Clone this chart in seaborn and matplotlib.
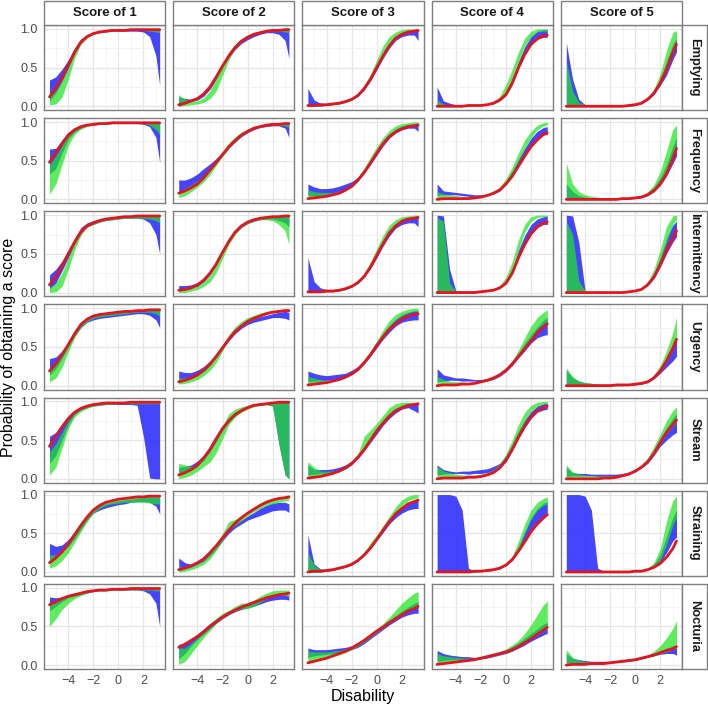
import numpy as np
import pandas as pd
import matplotlib
matplotlib.use("Agg")
import matplotlib.pyplot as plt
from matplotlib.patches import Rectangle
import seaborn as sns

# disability grid shared by every panel
x_disability = [-5.5, -5, -4.5, -4, -3.5, -3, -2.5, -2, -1.5, -1, -0.5,
                0, 0.5, 1, 1.5, 2, 2.5, 3, 3.3]

scores = ["Score of 1", "Score of 2", "Score of 3", "Score of 4", "Score of 5"]
items = ["Emptying", "Frequency", "Intermittency", "Urgency", "Stream",
         "Straining", "Nocturia"]

# probabilities in percent, one list per score (1..5)
emptying = {
    "fit": [[12,23,37,53,70,83,90,94,96,97,98,98,98,99,99,99,99,99,99],
            [2,4,7,10,16,25,38,52,65,76,84,89,93,95,97,98,98,99,99],
            [1,1,2,2,3,4,6,9,14,23,35,50,65,78,88,93,96,97,98],
            [0,0,0,0,0,1,1,1,2,4,8,15,30,50,67,80,87,91,92],
            [0,0,0,0,0,0,0,0,0,0,1,2,4,9,17,30,48,69,80]],
    "blue_lo": [[7,17,32,49,67,81,89,93,95,96,97,97,97,97,97,96,90,65,27],
                [0,3,6,8,13,22,35,50,63,73,81,86,90,93,95,95,93,85,62],
                [0,0,0,1,2,3,5,8,13,21,33,47,62,75,85,90,92,92,85],
                [0,0,0,0,0,0,1,1,2,3,7,14,28,48,66,80,87,89,89],
                [0,0,0,0,0,0,0,0,0,0,0,1,3,8,15,27,40,60,70]],
    "blue_hi": [[34,38,48,60,75,87,92,95,97,98,99,99,99,100,100,100,100,100,100],
                [12,10,9,12,18,28,41,55,68,79,87,92,95,97,98,99,99,99,99],
                [23,8,4,3,4,6,8,11,17,26,38,53,68,81,90,95,97,98,99],
                [25,7,4,2,2,2,2,2,3,5,10,19,36,58,77,90,97,99,99],
                [82,35,9,2,1,1,1,1,1,1,1,2,5,11,20,35,58,80,88]],
    "green_lo": [[2,3,12,35,62,80,88,93,95,96,97,97,97,98,98,98,97,96,95],
                 [0,1,2,3,5,10,20,40,60,74,83,89,93,95,96,97,97,96,95],
                 [0,0,1,1,2,3,5,8,13,22,36,52,68,82,90,95,97,98,98],
                 [0,0,0,0,0,1,1,1,2,4,9,19,37,58,78,90,96,97,97],
                 [0,0,0,0,0,0,0,0,0,0,0,1,4,9,18,32,52,76,85]],
    "green_hi": [[12,20,33,50,70,86,92,95,97,98,99,99,99,99,100,100,100,100,100],
                 [15,9,6,7,11,20,36,55,70,80,87,92,95,97,98,99,99,99,99],
                 [2,2,2,3,4,5,7,10,16,27,42,60,78,90,96,99,100,100,100],
                 [8,3,1,1,1,1,1,2,3,6,13,28,48,70,88,97,100,100,100],
                 [58,20,5,2,1,1,1,1,1,1,1,2,5,11,22,42,72,95,98]],
}

frequency = {
    "fit": [[48,60,72,83,90,94,96,97,98,98,99,99,99,99,99,99,99,99,99],
            [8,11,15,20,28,38,48,58,68,76,83,88,92,94,96,97,97,98,98],
            [1,2,3,4,6,8,12,17,25,35,47,60,72,81,87,91,94,95,96],
            [0,1,1,1,1,1,2,3,5,8,12,20,30,43,56,68,77,84,86],
            [0,0,0,0,0,0,0,0,0,1,1,2,3,6,11,20,33,52,66]],
    "blue_lo": [[33,40,60,78,87,92,95,96,97,97,98,98,98,98,98,97,94,80,48],
                [10,12,16,21,28,37,46,56,66,74,81,86,90,93,94,95,95,92,80],
                [5,5,5,6,7,9,12,16,24,34,45,57,69,79,86,90,92,92,88],
                [5,6,6,6,5,4,3,3,5,7,11,19,30,44,58,70,78,83,84],
                [0,0,0,0,0,0,0,0,0,0,1,1,2,5,10,18,30,46,56]],
    "blue_hi": [[65,66,77,87,92,95,97,98,99,99,99,100,100,100,100,100,100,100,100],
                [25,25,28,33,40,46,53,61,70,78,85,90,93,95,97,98,98,98,98],
                [20,16,14,14,15,17,20,23,29,39,51,64,76,85,91,95,97,98,99],
                [20,11,10,9,8,7,6,6,7,10,15,24,37,52,66,79,88,93,94],
                [20,10,5,3,2,1,1,1,1,1,2,3,5,9,16,28,45,68,80]],
    "green_lo": [[7,20,45,70,84,91,94,96,97,97,98,98,98,98,98,98,96,90,84],
                 [2,5,10,16,23,32,44,56,66,75,82,87,91,94,95,96,96,95,93],
                 [2,3,4,4,6,8,11,16,24,35,48,61,74,84,90,94,96,97,97],
                 [2,3,3,3,3,3,3,3,5,8,13,22,34,50,66,80,90,95,96],
                 [0,0,0,0,0,0,0,0,0,0,1,1,3,6,12,22,38,60,70]],
    "green_hi": [[45,56,70,82,90,94,96,97,98,99,99,99,99,100,100,100,100,100,100],
                 [10,14,19,24,32,41,51,62,73,81,87,91,94,96,97,98,99,99,99],
                 [12,10,9,9,9,11,14,20,29,41,55,68,80,89,95,98,99,100,100],
                 [10,7,6,5,4,4,4,5,7,10,16,27,42,60,77,88,96,99,100],
                 [47,20,10,6,4,3,2,2,2,2,2,3,5,10,19,36,62,90,96]],
}

intermittency = {
    "fit": [[10,20,34,50,65,78,86,90,93,95,96,97,98,98,99,99,99,99,99],
            [3,4,6,10,16,25,37,52,66,78,86,91,94,96,97,98,98,99,99],
            [1,1,1,2,2,3,5,8,13,21,33,48,63,77,86,92,95,96,97],
            [0,0,0,0,0,0,0,1,2,3,6,12,25,45,62,76,85,90,91],
            [0,0,0,0,0,0,0,0,0,0,1,2,4,10,20,36,55,70,80]],
    "blue_lo": [[5,12,28,45,62,77,85,88,91,93,94,95,96,96,96,95,90,75,50],
                [2,4,6,8,14,23,35,50,64,76,84,89,92,94,95,95,93,90,85],
                [0,0,0,1,1,2,4,7,12,20,31,45,60,73,83,88,90,90,85],
                [0,0,0,0,0,0,0,1,2,3,6,12,25,45,62,75,84,88,88],
                [0,0,0,0,0,0,0,0,0,0,1,2,4,9,18,33,50,65,72]],
    "blue_hi": [[23,30,41,55,70,84,90,93,95,96,97,98,98,99,99,99,100,100,100],
                [9,9,10,13,19,28,40,55,69,80,88,93,95,97,98,99,99,99,99],
                [45,14,6,4,3,4,6,9,15,24,36,51,66,79,88,93,96,98,99],
                [100,99,30,2,2,2,2,2,3,4,8,15,30,55,74,88,95,98,99],
                [100,99,65,2,1,1,1,1,1,1,1,3,6,13,25,45,70,87,92]],
    "green_lo": [[0,1,8,30,55,74,84,88,91,93,94,95,96,96,96,96,95,93,90],
                 [0,0,2,4,8,14,26,44,62,75,84,89,92,94,94,93,88,80,62],
                 [0,0,0,1,1,2,4,7,12,20,33,49,65,79,88,93,96,97,97],
                 [0,0,0,0,0,0,0,1,2,3,7,15,30,55,78,92,97,98,98],
                 [0,0,0,0,0,0,0,0,0,0,1,2,5,11,23,42,65,88,94]],
    "green_hi": [[6,12,25,45,65,80,87,91,94,96,97,98,98,99,99,99,100,100,100],
                 [5,5,6,8,14,22,36,55,70,81,88,93,96,98,99,99,100,100,100],
                 [2,2,2,2,3,4,6,9,15,25,40,57,74,87,94,98,99,100,100],
                 [97,92,12,2,1,1,1,2,3,5,9,20,40,68,88,98,100,100,100],
                 [92,75,15,2,1,1,1,1,1,1,1,3,6,14,30,55,85,99,100]],
}

urgency = {
    "fit": [[19,28,40,53,67,79,86,90,92,93,94,95,96,96,97,97,98,98,98],
            [5,7,10,14,20,28,38,49,60,70,77,83,87,90,93,95,96,97,97],
            [1,2,3,4,6,8,11,15,21,30,40,52,63,73,80,86,90,92,93],
            [0,1,1,1,2,2,3,5,7,10,14,20,28,38,48,58,68,76,80],
            [0,0,0,0,0,0,0,0,1,1,1,2,3,5,10,19,32,48,60]],
    "blue_lo": [[14,22,35,50,64,75,82,85,87,88,89,90,91,92,93,93,91,85,75],
                [5,7,9,13,18,26,36,47,58,67,74,79,82,84,86,88,88,87,85],
                [5,6,6,7,8,9,11,15,20,28,38,49,60,69,77,82,84,85,85],
                [5,6,7,7,6,6,6,5,6,8,12,18,26,36,45,55,62,65,66],
                [0,0,0,0,0,0,0,0,0,0,1,1,2,4,9,16,24,32,38]],
    "blue_hi": [[35,37,45,57,70,81,87,90,92,93,94,95,96,97,97,98,98,98,98],
                [19,17,17,20,25,32,41,52,62,71,78,84,87,89,91,93,95,96,95],
                [19,16,14,13,14,15,16,20,25,33,44,56,68,78,86,92,95,97,97],
                [22,14,12,10,10,9,8,8,9,12,16,23,32,42,55,66,76,85,88],
                [20,10,6,4,3,2,2,2,2,2,2,3,4,7,13,22,35,50,60]],
    "green_lo": [[5,10,24,44,62,75,83,87,89,90,91,92,93,94,95,95,95,93,90],
                 [2,3,5,8,13,20,30,45,60,70,77,82,86,89,92,94,95,96,96],
                 [2,3,4,4,6,8,11,15,21,30,41,53,65,76,85,90,94,96,96],
                 [2,3,3,3,3,3,3,4,6,9,13,20,29,38,50,62,73,80,83],
                 [0,0,0,0,0,0,0,0,0,0,1,1,2,5,10,18,30,48,58]],
    "green_hi": [[22,29,41,55,68,79,86,90,92,93,94,95,96,97,97,98,98,99,99],
                 [10,10,12,15,20,28,40,53,66,76,83,88,91,94,96,97,98,99,99],
                 [12,10,8,7,8,9,12,16,23,33,45,58,72,84,92,96,99,100,100],
                 [12,8,6,5,5,4,4,5,7,10,15,22,32,46,62,77,88,95,98],
                 [23,12,6,4,3,2,2,2,2,2,2,3,4,7,14,26,45,68,88]],
}

stream = {
    "fit": [[42,55,67,78,86,91,94,96,97,98,98,98,98,99,99,99,99,99,99],
            [5,8,12,18,27,38,52,65,75,83,88,92,95,96,97,98,99,99,99],
            [1,2,3,5,7,10,14,20,28,38,50,62,72,81,88,92,95,96,97],
            [0,1,1,1,1,2,2,3,5,8,14,24,38,54,68,80,88,92,94],
            [0,0,0,0,0,0,1,1,2,4,6,10,15,22,33,47,60,70,76]],
    "blue_lo": [[20,30,50,70,83,89,92,94,95,96,96,96,96,96,95,55,1,0,0],
                [5,8,11,16,24,35,48,62,73,81,87,91,94,95,96,94,45,5,0],
                [5,6,7,7,8,10,13,18,26,36,47,58,69,78,85,90,92,88,85],
                [5,6,7,7,7,6,7,7,8,10,14,22,36,52,66,78,86,89,90],
                [3,4,4,4,4,3,3,3,3,4,6,9,14,20,30,42,50,57,60]],
    "blue_hi": [[55,60,71,81,88,93,95,97,98,98,99,99,99,99,99,99,99,99,99],
                [15,16,18,23,31,42,56,69,79,86,91,94,96,97,98,99,99,99,99],
                [18,12,12,12,13,15,18,23,31,42,54,66,76,85,91,95,97,98,98],
                [18,12,10,9,10,10,11,12,13,16,20,30,45,62,76,87,94,97,98],
                [15,8,7,7,6,6,6,6,6,7,9,12,17,25,37,52,66,78,84]],
    "green_lo": [[5,15,40,65,80,87,91,94,95,96,96,97,97,97,97,97,97,97,97],
                 [0,2,5,10,16,22,34,52,70,80,86,90,93,95,96,94,45,5,0],
                 [0,2,4,5,7,9,13,19,27,38,50,62,73,82,89,93,95,96,96],
                 [0,2,3,3,3,3,3,4,6,9,15,25,40,58,75,88,94,97,97],
                 [0,2,2,2,2,2,2,2,2,4,6,10,15,21,31,45,58,68,73]],
    "green_hi": [[35,45,60,75,85,90,94,96,97,98,98,98,99,99,99,99,99,99,99],
                 [20,18,16,20,27,36,50,68,84,90,93,95,97,98,99,99,99,99,99],
                 [22,15,10,10,10,12,16,22,33,55,63,72,82,92,97,99,99,99,99],
                 [17,10,8,6,5,5,5,6,8,12,19,32,50,70,86,95,99,100,100],
                 [18,9,6,5,4,4,4,4,4,5,8,12,18,27,42,58,75,88,93]],
}

straining = {
    "fit": [[12,18,26,36,48,60,71,80,86,90,92,94,95,96,97,97,98,98,98],
            [3,5,8,12,17,25,34,44,54,63,70,76,81,86,90,93,95,96,97],
            [0,1,1,2,3,5,7,10,15,22,31,42,54,65,75,82,88,91,93],
            [0,0,0,0,0,0,1,1,2,3,5,9,16,27,39,52,62,70,74],
            [0,0,0,0,0,0,0,0,0,0,0,1,1,3,6,11,19,30,40]],
    "blue_lo": [[15,20,25,33,43,55,67,76,80,83,85,87,88,90,91,91,90,85,75],
                [2,4,6,10,14,21,30,40,50,57,62,67,70,73,76,79,80,80,77],
                [0,0,0,1,2,4,6,9,14,21,30,41,51,62,70,76,80,82,82],
                [0,0,0,0,0,0,0,1,1,2,4,8,15,26,40,56,65,72,74],
                [0,0,0,0,0,0,0,0,0,0,0,1,2,3,6,12,25,40,45]],
    "blue_hi": [[37,33,35,42,52,63,73,82,86,88,90,92,93,94,95,96,97,97,97],
                [18,12,10,14,20,27,36,46,56,63,67,72,77,82,86,89,90,90,88],
                [48,10,4,3,4,6,8,11,17,25,35,46,57,68,77,84,89,92,93],
                [100,100,100,98,80,5,1,1,2,3,5,10,19,33,52,70,82,89,91],
                [100,100,100,98,80,5,1,1,1,1,1,1,2,4,10,22,45,70,80]],
    "green_lo": [[5,8,15,25,38,52,65,76,82,86,88,89,90,90,90,90,89,88,88],
                 [0,1,3,6,10,17,28,40,55,60,66,72,78,82,86,88,90,92,93],
                 [0,0,0,1,2,4,6,9,14,21,31,43,55,66,77,86,92,95,96],
                 [0,0,0,0,0,0,0,1,1,2,4,8,16,30,50,68,80,86,88],
                 [0,0,0,0,0,0,0,0,0,0,0,1,2,3,7,15,35,60,70]],
    "green_hi": [[22,22,27,36,48,60,72,82,87,90,92,94,95,96,96,97,97,97,97],
                 [7,6,7,10,15,24,36,50,65,68,72,78,84,89,93,95,96,98,98],
                 [25,8,3,2,3,5,8,12,17,26,38,48,60,72,84,93,98,100,100],
                 [0,0,0,0,0,0,1,1,2,3,5,10,20,40,62,80,90,95,97],
                 [0,0,0,0,0,0,0,0,0,0,0,1,2,5,12,30,65,92,98]],
}

nocturia = {
    "fit": [[78,82,86,89,91,93,95,96,97,97,98,98,98,99,99,99,99,99,99],
            [23,27,32,37,43,50,56,62,67,71,75,78,81,84,87,89,91,92,93],
            [3,5,7,9,12,15,18,22,27,32,38,44,49,55,60,65,70,73,76],
            [1,2,3,4,5,6,7,9,11,13,15,17,20,24,29,34,40,45,49],
            [0,1,1,1,2,2,2,3,4,5,6,7,9,11,13,16,19,21,24]],
    "blue_lo": [[70,76,82,87,89,91,93,95,96,96,97,97,97,97,97,96,92,80,50],
                [8,15,25,33,40,47,54,60,65,69,72,74,76,79,82,84,85,85,84],
                [10,12,13,14,15,16,18,20,23,28,34,40,46,52,57,62,65,67,67],
                [5,6,7,7,7,7,7,8,9,11,13,15,18,22,26,31,35,39,41],
                [3,3,3,3,3,3,3,3,4,4,5,6,8,10,12,14,15,15,13]],
    "blue_hi": [[88,87,88,90,92,94,96,97,98,98,99,99,99,99,99,99,99,99,99],
                [27,28,34,40,47,54,60,65,70,74,77,80,82,85,88,90,91,91,90],
                [22,20,20,20,21,22,23,25,29,34,40,46,52,58,64,70,75,80,82],
                [19,15,13,12,11,11,10,11,12,14,17,20,24,29,35,41,47,53,55],
                [15,9,7,6,5,5,5,5,5,6,7,8,10,12,15,18,22,25,25]],
    "green_lo": [[50,60,72,80,86,90,93,95,96,96,97,97,97,97,97,97,97,96,96],
                 [1,5,15,26,36,45,54,61,66,70,73,73,76,81,86,89,90,90,89],
                 [3,5,7,9,11,13,16,20,25,30,36,42,48,55,61,67,71,74,76],
                 [2,3,4,5,5,6,7,8,10,12,14,16,19,24,29,34,39,44,47],
                 [0,1,2,2,2,2,2,3,3,4,5,6,8,10,12,15,17,20,22]],
    "green_hi": [[80,84,87,89,91,93,95,96,97,98,98,98,99,99,99,99,99,99,99],
                 [22,22,28,35,44,53,61,67,71,76,80,80,84,89,93,96,97,97,97],
                 [18,17,17,17,18,19,21,24,29,35,41,47,54,62,71,80,87,93,95],
                 [15,12,11,10,9,9,9,10,12,14,17,21,26,32,41,52,65,78,83],
                 [20,10,6,5,4,4,4,4,5,6,7,8,10,13,18,25,35,47,57]],
}

item_data = [emptying, frequency, intermittency, urgency, stream, straining, nocturia]

BLUE = "#2b2bff"
GREEN = "#1ee61e"
RED = "#e5141e"
BORDER = "#7f7f7f"

sns.set_style("white")
plt.rcParams["font.family"] = ["Liberation Sans", "DejaVu Sans"]

W, H = 708, 708
fig = plt.figure(figsize=(W / 100, H / 100), dpi=100)
axes = fig.subplots(7, 5, sharex=True, sharey=True)
fig.subplots_adjust(left=44 / W, right=682 / W, top=1 - 25 / H,
                    bottom=1 - 669 / H, wspace=8 / 121.2, hspace=8 / 85.1)

x = np.array(x_disability)
for r, data in enumerate(item_data):
    for c in range(5):
        ax = axes[r, c]
        for key in data:
            assert len(data[key][c]) == len(x), (items[r], key, c)
        ax.fill_between(x, np.array(data["blue_lo"][c]) / 100,
                        np.array(data["blue_hi"][c]) / 100,
                        color=BLUE, alpha=0.88, linewidth=0, zorder=2)
        ax.fill_between(x, np.array(data["green_lo"][c]) / 100,
                        np.array(data["green_hi"][c]) / 100,
                        color=GREEN, alpha=0.72, linewidth=0, zorder=3)
        df = pd.DataFrame({"Disability": x,
                           "p": np.array(data["fit"][c]) / 100})
        sns.lineplot(data=df, x="Disability", y="p", ax=ax, color=RED,
                     linewidth=2.0, zorder=4)

        ax.set_xlim(-5.94, 3.74)
        ax.set_ylim(-0.05, 1.05)
        ax.set_xticks([-4, -2, 0, 2])
        ax.set_xticks([-5, -3, -1, 1, 3], minor=True)
        ax.set_yticks([0, 0.5, 1.0])
        ax.set_yticks([0.25, 0.75], minor=True)
        ax.set_yticklabels(["0.0", "0.5", "1.0"])
        ax.grid(which="major", color="#e6e6e6", linewidth=0.9, zorder=0)
        ax.grid(which="minor", color="#f2f2f2", linewidth=0.6, zorder=0)
        ax.set_axisbelow(True)
        ax.set_xlabel("")
        ax.set_ylabel("")
        ax.tick_params(axis="both", which="major", length=2.5, width=0.6,
                       color="#333333", labelsize=9, labelcolor="#4d4d4d",
                       pad=2)
        ax.tick_params(which="minor", length=0)
        for sp in ax.spines.values():
            sp.set_color(BORDER)
            sp.set_linewidth(1.0)

# facet strips
for c in range(5):
    pos = axes[0, c].get_position()
    fig.patches.append(Rectangle((pos.x0, pos.y1), pos.width, 24 / H,
                                 transform=fig.transFigure, facecolor="white",
                                 edgecolor=BORDER, linewidth=1.0))
    fig.text(pos.x0 + pos.width / 2, pos.y1 + 12 / H, scores[c],
             ha="center", va="center", fontsize=9.5, fontweight="bold",
             color="#1a1a1a")
for r in range(7):
    pos = axes[r, 4].get_position()
    fig.patches.append(Rectangle((pos.x1, pos.y0), 25 / W, pos.height,
                                 transform=fig.transFigure, facecolor="white",
                                 edgecolor=BORDER, linewidth=1.0))
    fig.text(pos.x1 + 12.5 / W, pos.y0 + pos.height / 2, items[r],
             ha="center", va="center", rotation=-90, fontsize=9.3,
             fontweight="bold", color="#1a1a1a")

fig.text(363 / W, 1 - 696 / H, "Disability", ha="center", va="center",
         fontsize=11.5, color="black")
fig.text(9 / W, 1 - 347 / H, "Probability of obtaining a score", ha="center",
         va="center", rotation=90, fontsize=11.5, color="black")

fig.savefig("out.png", dpi=100)
